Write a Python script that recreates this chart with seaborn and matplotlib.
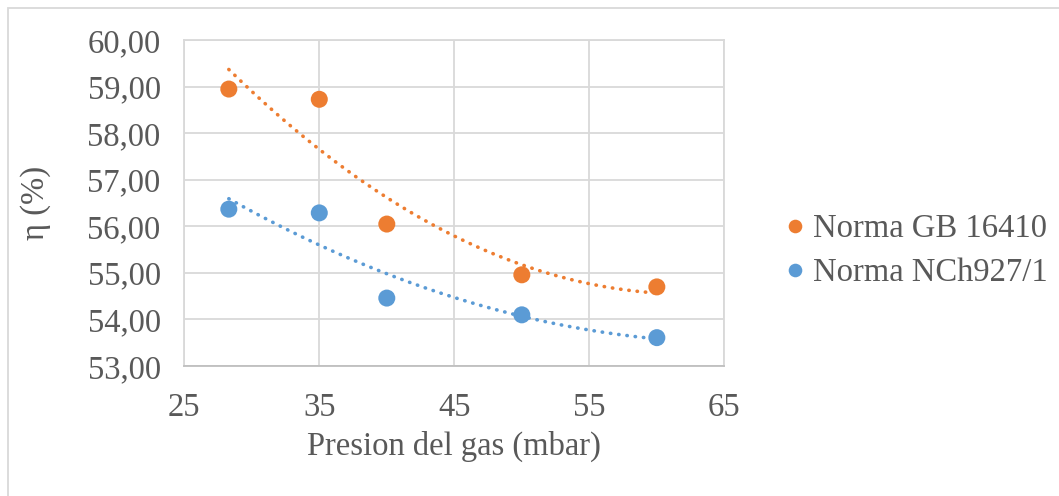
import numpy as np
import pandas as pd
import matplotlib
matplotlib.use("Agg")
import matplotlib.pyplot as plt
from matplotlib.patches import Rectangle
import seaborn as sns

# Gas pressure (mbar) and efficiency (%) for each standard
presion = [28.3, 35, 40, 50, 60]
eta_gb = [58.95, 58.73, 56.05, 54.96, 54.70]
eta_nch = [56.37, 56.29, 54.46, 54.10, 53.61]
series = ["Norma GB 16410", "Norma NCh927/1"]
colors = ["#ED7D31", "#5B9BD5"]
y_ticks = [53, 54, 55, 56, 57, 58, 59, 60]
x_ticks = [25, 35, 45, 55, 65]

sns.set_theme(style="white")
plt.rcParams["font.family"] = ["Liberation Serif", "DejaVu Serif"]
text_color = "#595959"
grid_color = "#d9d9d9"
fs = 23.5

df = pd.DataFrame({
    "presion": presion * 2,
    "eta": eta_gb + eta_nch,
    "norma": [series[0]] * len(presion) + [series[1]] * len(presion),
})

fig = plt.figure(figsize=(10.59, 4.96), dpi=100)
ax = fig.add_axes([0.174, 0.262, 0.510, 0.657])

# Second-order polynomial trendlines
for name, vals, c in zip(series, [eta_gb, eta_nch], colors):
    coef = np.polyfit(presion, vals, 2)
    xs = np.linspace(min(presion), max(presion), 200)
    trend = pd.DataFrame({"presion": xs, "eta": np.polyval(coef, xs)})
    sns.lineplot(data=trend, x="presion", y="eta", ax=ax, color=c,
                 linewidth=2.6, linestyle=(0, (0.1, 2.2)),
                 dash_capstyle="round", legend=False, zorder=2)

sns.scatterplot(data=df, x="presion", y="eta", hue="norma", hue_order=series,
                palette=colors, s=150, edgecolor="none", ax=ax, zorder=3)

ax.set_xlim(25, 65)
ax.set_ylim(53, 60)
ax.set_xticks(x_ticks)
ax.set_yticks(y_ticks)
ax.set_yticklabels([f"{v:.2f}".replace(".", ",") for v in y_ticks])
ax.grid(True, color=grid_color, linewidth=1.3)
ax.set_axisbelow(True)
for side, sp in ax.spines.items():
    sp.set_color(grid_color)
    sp.set_linewidth(1.3)
ax.spines["bottom"].set_color("#bfbfbf")
ax.tick_params(axis="both", length=0, labelsize=fs, colors=text_color)
ax.tick_params(axis="y", pad=17)
ax.tick_params(axis="x", pad=19)

ax.set_xlabel("Presion del gas (mbar)", fontsize=fs, color=text_color)
ax.set_ylabel("η (%)", fontsize=fs, color=text_color)
ax.xaxis.set_label_coords(0.5, -0.2)
ax.yaxis.set_label_coords(-0.247, 0.5)

handles, labels = ax.get_legend_handles_labels()
leg = ax.legend(handles, labels, loc="center left", bbox_to_anchor=(1.11, 0.353),
                frameon=False, fontsize=fs, markerscale=0.8,
                handlelength=0.7, handletextpad=0.2, labelspacing=0.42,
                borderaxespad=0, borderpad=0)
for t in leg.get_texts():
    t.set_color(text_color)

# Outer chart frame
fig.patches.append(Rectangle((0.008, -0.05), 1.05, 1.034, transform=fig.transFigure,
                             fill=False, edgecolor="#d9d9d9", linewidth=1.3))

fig.savefig("out.png", dpi=100)
